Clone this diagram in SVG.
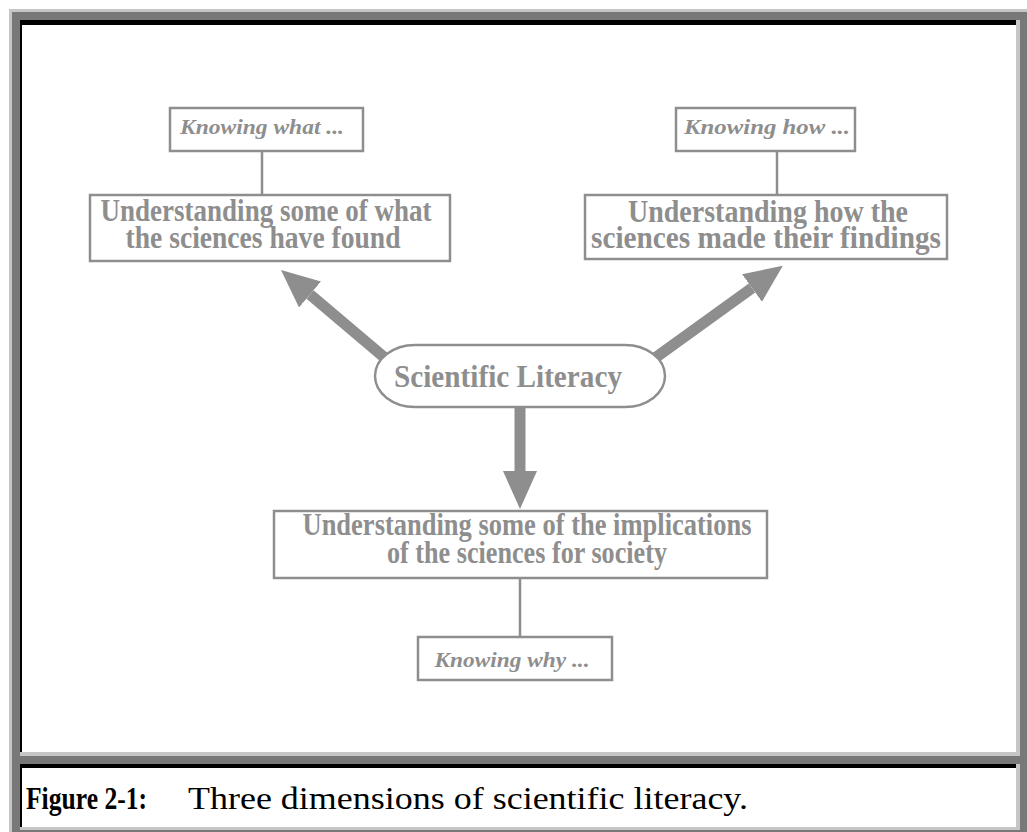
<svg xmlns="http://www.w3.org/2000/svg" width="1027" height="832" viewBox="0 0 1027 832">
<style>
.box{fill:#ffffff;stroke:#8e8e8e;stroke-width:2.5}
.t{font-family:"Liberation Serif","Times New Roman",serif;font-weight:bold;fill:#8e8e8e;text-anchor:middle}
.it{font-style:italic;font-size:22px}
.big{font-size:31px}
.link{stroke:#8e8e8e;stroke-width:2.5;fill:none}
.arrow{stroke:#8e8e8e;stroke-width:11;fill:none;marker-end:url(#head)}
.cap{font-family:"Liberation Serif","Times New Roman",serif;font-size:32px;fill:#000000}
</style>
<defs>
<marker id="head" markerUnits="userSpaceOnUse" markerWidth="38" markerHeight="34" viewBox="0 0 38 34" refX="0" refY="17" orient="auto">
<path d="M0,0 L38,17 L0,34 Z" fill="#8e8e8e"/>
</marker>
</defs>
<rect x="0" y="0" width="1027" height="832" fill="#ffffff"/>
<g id="frame">
<rect x="9" y="9" width="1018" height="823" fill="#787878"/>
<rect x="9" y="9" width="1018" height="3" fill="#c6c6c6"/>
<rect x="9" y="9" width="3" height="823" fill="#c6c6c6"/>
<rect x="20" y="20" width="1000" height="736" fill="#c6c6c6"/>
<rect x="20" y="20" width="996" height="732" fill="#000000"/>
<rect x="22" y="25" width="994" height="727" fill="#ffffff"/>
<rect x="20" y="764" width="1000" height="66" fill="#c6c6c6"/>
<rect x="20" y="764" width="996" height="63" fill="#000000"/>
<rect x="22" y="768" width="994" height="59" fill="#ffffff"/>
</g>
<g id="connectors">
<line class="link" x1="262" y1="151" x2="262" y2="195"/>
<line class="link" x1="777" y1="151" x2="777" y2="195"/>
<line class="link" x1="520" y1="578" x2="520" y2="637"/>
<line class="arrow" x1="385" y1="358" x2="310" y2="294.5"/>
<line class="arrow" x1="655" y1="358" x2="752" y2="288"/>
<line class="arrow" x1="520" y1="400" x2="520" y2="471"/>
</g>
<g id="knowing-what">
<rect class="box" x="170" y="108" width="193" height="43"/>
<text class="t it" x="262" y="134" textLength="164" lengthAdjust="spacingAndGlyphs">Knowing what ...</text>
</g>
<g id="understanding-what">
<rect class="box" x="90" y="195" width="360" height="66"/>
<text class="t big" x="266" y="221" textLength="331" lengthAdjust="spacingAndGlyphs">Understanding some of what</text>
<text class="t big" x="263" y="248" textLength="275" lengthAdjust="spacingAndGlyphs">the sciences have found</text>
</g>
<g id="knowing-how">
<rect class="box" x="676" y="108" width="179" height="43"/>
<text class="t it" x="767" y="134" textLength="166" lengthAdjust="spacingAndGlyphs">Knowing how ...</text>
</g>
<g id="understanding-how">
<rect class="box" x="585" y="195" width="362" height="64"/>
<text class="t big" x="768" y="222" textLength="280" lengthAdjust="spacingAndGlyphs">Understanding how the</text>
<text class="t big" x="766" y="248" textLength="350" lengthAdjust="spacingAndGlyphs">sciences made their findings</text>
</g>
<g id="scientific-literacy">
<rect class="box" x="375" y="345" width="290" height="62" rx="40" ry="31"/>
<text class="t big" x="508" y="387" textLength="228" lengthAdjust="spacingAndGlyphs">Scientific Literacy</text>
</g>
<g id="understanding-implications">
<rect class="box" x="274" y="511" width="493" height="67"/>
<text class="t big" x="527" y="535" textLength="449" lengthAdjust="spacingAndGlyphs">Understanding some of the implications</text>
<text class="t big" x="527" y="563" textLength="280" lengthAdjust="spacingAndGlyphs">of the sciences for society</text>
</g>
<g id="knowing-why">
<rect class="box" x="418" y="637" width="194" height="43"/>
<text class="t it" x="512" y="667" textLength="155" lengthAdjust="spacingAndGlyphs">Knowing why ...</text>
</g>
<g id="caption">
<text class="cap" x="26" y="809" font-weight="bold" textLength="121" lengthAdjust="spacingAndGlyphs">Figure 2-1:</text>
<text class="cap" x="188" y="809" textLength="560" lengthAdjust="spacingAndGlyphs">Three dimensions of scientific literacy.</text>
</g>
</svg>
